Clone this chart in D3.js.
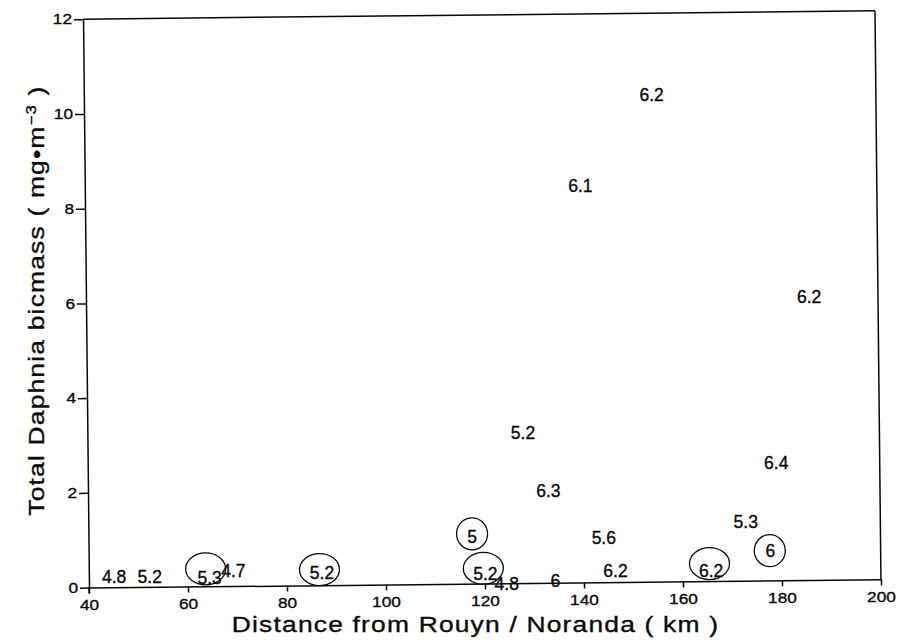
<!DOCTYPE html>
<html>
<head>
<meta charset="utf-8">
<script src="https://cdn.jsdelivr.net/npm/d3@7"></script>
<style>
  body { margin: 0; background: #fff; }
  svg { display: block; }
  text { font-family: "Liberation Sans", Arial, Helvetica, sans-serif; fill: #0a0a0a;
         stroke: #0a0a0a; stroke-width: 0.35px; }
</style>
</head>
<body>
<svg id="chart" width="899" height="643"></svg>
<script>
// Lakes: distance from the Rouyn/Noranda smelter, total Daphnia biomass, lake pH written at each point
const distanceKm = [45.1, 52.3, 64.4, 69.2, 87.1, 117.5, 120.1, 124.4, 134.2, 144.1,
                    146.4, 165.7, 177.7, 172.8, 179.1, 186.1, 154.7, 140.1, 128.0, 133.0];
const biomass    = [0.22, 0.21, 0.19, 0.33, 0.27, 1.00, 0.21, 0.00, 0.04, 0.95,
                    0.25, 0.22, 0.63, 1.24, 2.49, 5.99, 10.27, 8.38, 3.18, 1.95];
const phLabels   = ["4.8", "5.2", "5.3", "4.7", "5.2", "5", "5.2", "4.8", "6", "5.6",
                    "6.2", "6.2", "6", "5.3", "6.4", "6.2", "6.2", "6.1", "5.2", "6.3"];

// Lakes singled out with a ring
const ringDistance = [63.6, 86.6, 117.5, 119.7, 165.4, 177.6];
const ringBiomass  = [0.37, 0.33, 1.05, 0.32, 0.37, 0.63];
const ringLabels   = ["5.3", "5.2", "5", "5.2", "6.2", "6"];

const xTicks = [40, 60, 80, 100, 120, 140, 160, 180, 200];
const yTicks = [0, 2, 4, 6, 8, 10, 12];

const xTitle = "Distance from Rouyn / Noranda ( km )";

const svg = d3.select("#chart");
const plotLeft = 86, plotRight = 878, plotTop = 15, plotBottom = 583.5;

const x = d3.scaleLinear().domain([40, 200]).range([plotLeft, plotRight]);
const y = d3.scaleLinear().domain([0, 12]).range([plotBottom, plotTop]);

// whole figure sits very slightly tilted on the page; texts are turned back upright
const tilt = -0.6;
const g = svg.append("g").attr("transform", `rotate(${tilt} 480 300)`);
const upright = `rotate(${-tilt})`;

const lineW = 1.5;
const ink = "#0a0a0a";
const tickStretch = 1.15;
const titleStretch = 1.2;

// frame: top and right edges
g.append("line").attr("x1", plotLeft).attr("x2", plotRight).attr("y1", plotTop).attr("y2", plotTop)
  .attr("stroke", ink).attr("stroke-width", lineW);
g.append("line").attr("x1", plotRight).attr("x2", plotRight).attr("y1", plotTop).attr("y2", plotBottom)
  .attr("stroke", ink).attr("stroke-width", lineW);

// bottom axis
const xAxis = g.append("g").attr("transform", `translate(0,${plotBottom})`)
  .call(d3.axisBottom(x).tickValues(xTicks).tickFormat(d3.format("d"))
        .tickSize(6).tickPadding(6).tickSizeOuter(0));
xAxis.select(".domain").attr("stroke", ink).attr("stroke-width", lineW);
xAxis.selectAll(".tick line").attr("stroke", ink).attr("stroke-width", lineW);
xAxis.selectAll(".tick text")
  .attr("font-size", 15).attr("font-family", null).attr("fill", ink)
  .attr("transform", `${upright} scale(${tickStretch},1)`);

// left axis
const yAxis = g.append("g").attr("transform", `translate(${plotLeft},0)`)
  .call(d3.axisLeft(y).tickValues(yTicks).tickFormat(d3.format("d"))
        .tickSize(9).tickPadding(2).tickSizeOuter(0));
yAxis.select(".domain").attr("stroke", ink).attr("stroke-width", lineW);
yAxis.selectAll(".tick line").attr("stroke", ink).attr("stroke-width", lineW);
yAxis.selectAll(".tick text")
  .attr("font-size", 15).attr("font-family", null).attr("fill", ink)
  .attr("x", -11 / tickStretch)
  .attr("transform", `${upright} scale(${tickStretch},1)`);

// the y axis line continues down to the 40 km tick
g.append("line").attr("x1", plotLeft).attr("x2", plotLeft).attr("y1", plotBottom).attr("y2", plotBottom + 6)
  .attr("stroke", ink).attr("stroke-width", lineW);

// rings around selected lakes
g.append("g").selectAll("ellipse")
  .data(ringLabels.map((t, i) => ({ t, d: ringDistance[i], b: ringBiomass[i] })))
  .join("ellipse")
  .attr("cx", d => x(d.d))
  .attr("cy", d => y(d.b))
  .attr("rx", d => d.t.length > 1 ? 20 : 15.5)
  .attr("ry", 16)
  .attr("fill", "none")
  .attr("stroke", ink)
  .attr("stroke-width", 1.3);

// pH labels act as the point markers
g.append("g").selectAll("text")
  .data(phLabels.map((t, i) => ({ t, d: distanceKm[i], b: biomass[i] })))
  .join("text")
  .attr("transform", d => `translate(${x(d.d)},${y(d.b)}) ${upright}`)
  .attr("dy", "0.36em")
  .attr("text-anchor", "middle")
  .attr("font-size", 17.5)
  .text(d => d.t);

// axis titles
g.append("text")
  .attr("transform", `translate(472,632) ${upright} scale(${titleStretch},1)`)
  .attr("text-anchor", "middle")
  .attr("font-size", 22)
  .attr("letter-spacing", 1)
  .text(xTitle);

const yTitle = g.append("text")
  .attr("transform", `translate(44,296) ${upright} rotate(-90) scale(${titleStretch},1)`)
  .attr("text-anchor", "middle")
  .attr("font-size", 22)
  .attr("letter-spacing", 1);
yTitle.append("tspan").text("Total Daphnia bicmass ( mg\u2022m");
yTitle.append("tspan").attr("dy", -8).attr("font-size", 14).text("\u22123");
yTitle.append("tspan").attr("dy", 8).text(" )");
</script>
</body>
</html>
